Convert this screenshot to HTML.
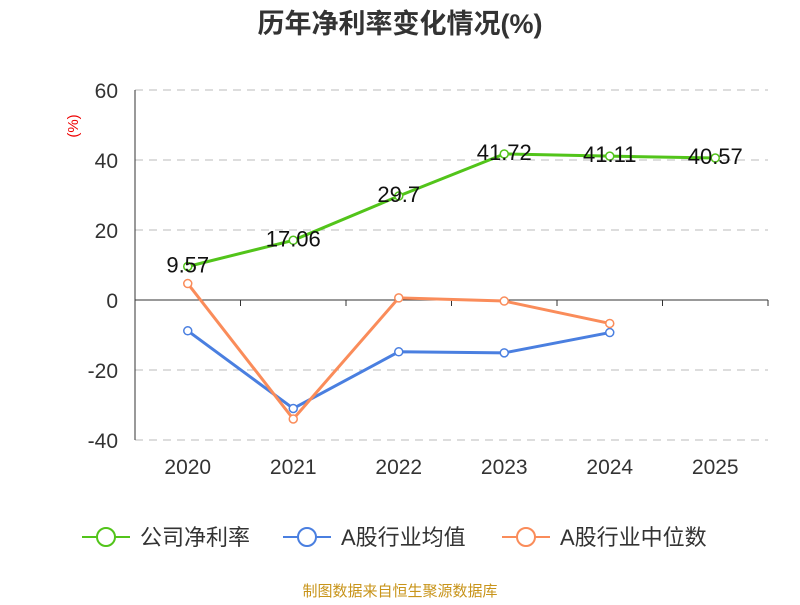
<!DOCTYPE html>
<html><head><meta charset="utf-8"><style>
body{margin:0;background:#fff;font-family:"Liberation Sans","Noto Sans CJK SC",sans-serif}
</style></head><body>
<svg id="c" width="800" height="600" xmlns="http://www.w3.org/2000/svg">
<text x="400" y="33" text-anchor="middle" font-size="27" font-weight="bold" fill="#333">历年净利率变化情况(%)</text>
<text x="78" y="126" text-anchor="middle" font-size="15" fill="#e00" transform="rotate(-90 78 126)">(%)</text>
<g id="grid"></g><g id="series"></g>
<g>
<g><line x1="82" y1="537" x2="130" y2="537" stroke="#52c41a" stroke-width="2"/><circle cx="106" cy="537" r="9" fill="#fff" stroke="#52c41a" stroke-width="2"/><text x="140" y="545" font-size="22" fill="#333">公司净利率</text></g>
<g><line x1="283" y1="537" x2="331" y2="537" stroke="#4a7fe0" stroke-width="2"/><circle cx="307" cy="537" r="9" fill="#fff" stroke="#4a7fe0" stroke-width="2"/><text x="341" y="545" font-size="22" fill="#333">A股行业均值</text></g>
<g><line x1="502" y1="537" x2="550" y2="537" stroke="#fa8c5a" stroke-width="2"/><circle cx="526" cy="537" r="9" fill="#fff" stroke="#fa8c5a" stroke-width="2"/><text x="560" y="545" font-size="22" fill="#333">A股行业中位数</text></g>
</g>
<text x="400" y="596" text-anchor="middle" font-size="15" fill="#c8941a">制图数据来自恒生聚源数据库</text>
</svg>
<script>
const categories=["2020","2021","2022","2023","2024","2025"];
const netMargin=[9.57,17.06,29.7,41.72,41.11,40.57];
const industryMean=[-8.8,-31,-14.8,-15.1,-9.3];
const industryMedian=[4.7,-34,0.6,-0.3,-6.7];
const yTicks=[60,40,20,0,-20,-40];
const NS="http://www.w3.org/2000/svg";
const x0=135,x1=768,bw=(x1-x0)/categories.length;
const X=i=>x0+bw*(i+0.5);
const Y=v=>300-v*3.5;
function mk(tag,attrs,parent){const e=document.createElementNS(NS,tag);for(const k in attrs)e.setAttribute(k,attrs[k]);parent.appendChild(e);return e;}
const grid=document.getElementById('grid'),ser=document.getElementById('series');
yTicks.forEach(t=>{
 if(t!==0){const l=mk('line',{x1:x0,x2:x1,y1:Y(t),y2:Y(t),stroke:'#bbb','stroke-dasharray':'8,6'},grid);
 
 }
 const tx=mk('text',{x:118,y:Y(t)+8,'text-anchor':'end','font-size':21,fill:'#333'},grid);tx.textContent=t;
 
 
});
const ya=mk('line',{x1:x0,x2:x0,y1:Y(60),y2:Y(-40),stroke:'#333'},grid);


const xa=mk('line',{x1:x0,x2:x1,y1:Y(0),y2:Y(0),stroke:'#333'},grid);


for(let i=0;i<=categories.length;i++){mk('line',{x1:x0+bw*i,x2:x0+bw*i,y1:Y(0),y2:Y(0)+6,stroke:'#333'},grid);}
categories.forEach((c,i)=>{const t=mk('text',{x:X(i),y:474,'text-anchor':'middle','font-size':21,fill:'#333'},grid);t.textContent=c;
 
 });
function draw(vals,color,name,labels){
 const p=mk('polyline',{points:vals.map((v,i)=>X(i)+','+Y(v)).join(' '),fill:'none',stroke:color,'stroke-width':3},ser);
 
 
 vals.forEach((v,i)=>{const c=mk('circle',{cx:X(i),cy:Y(v),r:4,fill:'#fff',stroke:color,'stroke-width':1.5},ser);
  
  
  if(labels){const t=mk('text',{x:X(i),y:Y(v)+6,'text-anchor':'middle','font-size':22,fill:'#111'},ser);t.textContent=v;
   
   }
 });
}
draw(industryMean,'#4a7fe0','industry-mean',false);
draw(industryMedian,'#fa8c5a','industry-median',false);
draw(netMargin,'#52c41a','net-margin',true);
</script>
</body></html>
